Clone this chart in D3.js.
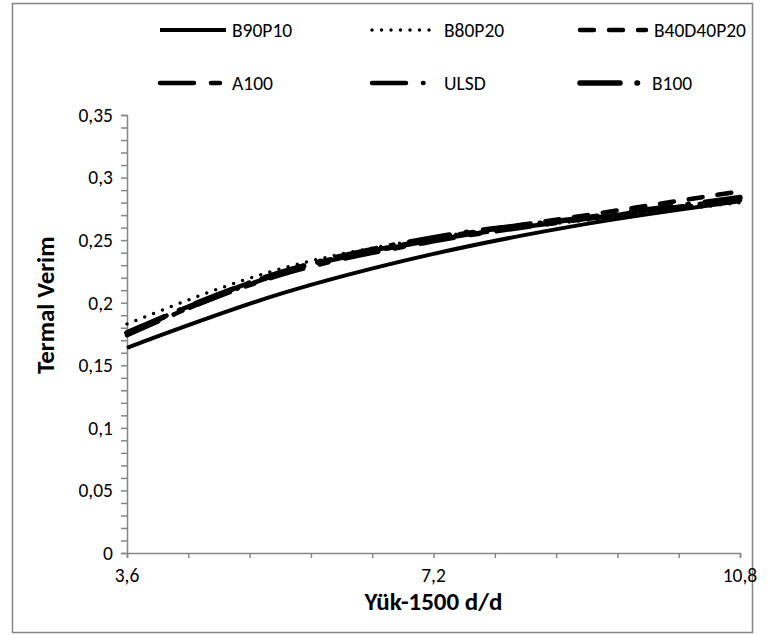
<!DOCTYPE html>
<html>
<head>
<meta charset="utf-8">
<script src="https://cdn.jsdelivr.net/npm/d3@7"></script>
<style>
  body { margin: 0; background: #fff; }
  svg { display: block; font-family: Carlito, Lato, sans-serif; }
</style>
</head>
<body>
<div id="app"></div>
<script>
// load values (x axis)
const loads = [3.6, 5.4, 7.2, 9.0, 10.8];

// thermal efficiency per fuel
const b90p10 = [0.164, 0.207, 0.239, 0.263, 0.281];
const b80p20 = [0.183, 0.227, 0.252, 0.266, 0.280];
const b40d40p20 = [0.176, 0.224, 0.251, 0.270, 0.289];
const a100 = [0.175, 0.222, 0.249, 0.267, 0.283];
const ulsd = [0.174, 0.223, 0.250, 0.267, 0.282];
const b100 = [0.176, 0.224, 0.252, 0.268, 0.284];

const seriesNames = ['B90P10', 'B80P20', 'B40D40P20', 'A100', 'ULSD', 'B100'];
const seriesValues = [b90p10, b80p20, b40d40p20, a100, ulsd, b100];

const yTicks = [0, 0.05, 0.1, 0.15, 0.2, 0.25, 0.3, 0.35];
const xTickLabels = [3.6, 7.2, 10.8];

// line styles
const styles = {
  B90P10: { width: 4, dash: null, cap: 'butt' },
  B80P20: { width: 3.5, dash: '0,9.5', cap: 'round' },
  B40D40P20: { width: 4.5, dash: '14,15', cap: 'round' },
  A100: { width: 4.5, dash: '34,17,9,17', cap: 'round' },
  ULSD: { width: 4.5, dash: '34,17,0.5,17', cap: 'round' },
  B100: { width: 5.5, dash: '40,17,0.5,17', cap: 'round' },
};

const W = 771;
const H = 635;
const margin = { top: 115, right: 31, bottom: 82, left: 127 };
const width = W - margin.left - margin.right;
const height = H - margin.top - margin.bottom;
const axisColor = '#868686';

const svg = d3.select('#app')
  .append('svg')
  .attr('width', W)
  .attr('height', H);

// outer chart border
svg.append('rect')
  .attr('x', 12.5)
  .attr('y', 3.5)
  .attr('width', 740)
  .attr('height', 629)
  .attr('fill', 'none')
  .attr('stroke', axisColor)
  .attr('stroke-width', 1.5);

const g = svg.append('g')
  .attr('transform', `translate(${margin.left},${margin.top})`);

const xScale = d3.scaleLinear().domain([3.6, 10.8]).range([0, width]);
const yScale = d3.scaleLinear().domain([0, 0.35]).range([height, 0]);

const fmt = d => String(+d.toFixed(2)).replace('.', ',');

// y axis: minor ticks every 0.01, labels every 0.05
const yAxis = g.append('g')
  .call(d3.axisLeft(yScale)
    .tickValues(d3.range(0, 0.3501, 0.01))
    .tickSize(6)
    .tickFormat(''));
yAxis.selectAll('path, line').attr('stroke', axisColor).attr('stroke-width', 1.5);

g.selectAll('.ylab')
  .data(yTicks)
  .enter()
  .append('text')
  .attr('class', 'ylab')
  .attr('x', -14)
  .attr('y', d => yScale(d))
  .attr('dy', '0.35em')
  .attr('text-anchor', 'end')
  .attr('font-size', 19.5)
  .attr('fill', '#000')
  .text(fmt);

// x axis: ticks every 0.72, labels at 3.6 / 7.2 / 10.8
const xAxis = g.append('g')
  .attr('transform', `translate(0,${height})`)
  .call(d3.axisBottom(xScale)
    .tickValues(d3.range(0, 11).map(i => 3.6 + i * 0.72))
    .tickSize(5)
    .tickFormat(''));
xAxis.selectAll('path, line').attr('stroke', axisColor).attr('stroke-width', 1.5);

g.selectAll('.xlab')
  .data(xTickLabels)
  .enter()
  .append('text')
  .attr('class', 'xlab')
  .attr('x', d => xScale(d))
  .attr('y', height + 29)
  .attr('text-anchor', 'middle')
  .attr('font-size', 19.5)
  .text(fmt);

// axis titles
g.append('text')
  .attr('x', xScale(7.2))
  .attr('y', height + 57)
  .attr('text-anchor', 'middle')
  .attr('font-size', 25)
  .attr('font-weight', 'bold')
  .text('Yük-1500 d/d');

svg.append('text')
  .attr('transform', `translate(54,${margin.top + yScale(0.198)}) rotate(-90)`)
  .attr('text-anchor', 'middle')
  .attr('font-size', 25)
  .attr('font-weight', 'bold')
  .text('Termal  Verim');

// curves
const line = d3.line()
  .x(d => xScale(d[0]))
  .y(d => yScale(d[1]))
  .curve(d3.curveMonotoneX);

const drawOrder = ['B90P10', 'B40D40P20', 'A100', 'ULSD', 'B100', 'B80P20'];
drawOrder.forEach((name) => {
  const vals = seriesValues[seriesNames.indexOf(name)];
  const st = styles[name];
  g.append('path')
    .datum(loads.map((x, i) => [x, vals[i]]))
    .attr('fill', 'none')
    .attr('stroke', '#000')
    .attr('stroke-width', st.width)
    .attr('stroke-linecap', st.cap)
    .attr('stroke-dasharray', st.dash)
    .attr('d', line);
});

// legend
const legendCols = [160, 372, 580];
const legendRows = [30, 83];
const legend = svg.append('g');
seriesNames.forEach((name, i) => {
  const lx = legendCols[i % 3];
  const ly = legendRows[Math.floor(i / 3)];
  const st = styles[name];
  legend.append('line')
    .attr('x1', lx)
    .attr('x2', lx + 66)
    .attr('y1', ly)
    .attr('y2', ly)
    .attr('stroke', '#000')
    .attr('stroke-width', st.width)
    .attr('stroke-linecap', st.cap)
    .attr('stroke-dasharray', st.dash);
  legend.append('text')
    .attr('x', lx + (i === 2 ? 74 : 72))
    .attr('y', ly)
    .attr('dy', '0.35em')
    .attr('font-size', 19.5)
    .text(name);
});
</script>
</body>
</html>
